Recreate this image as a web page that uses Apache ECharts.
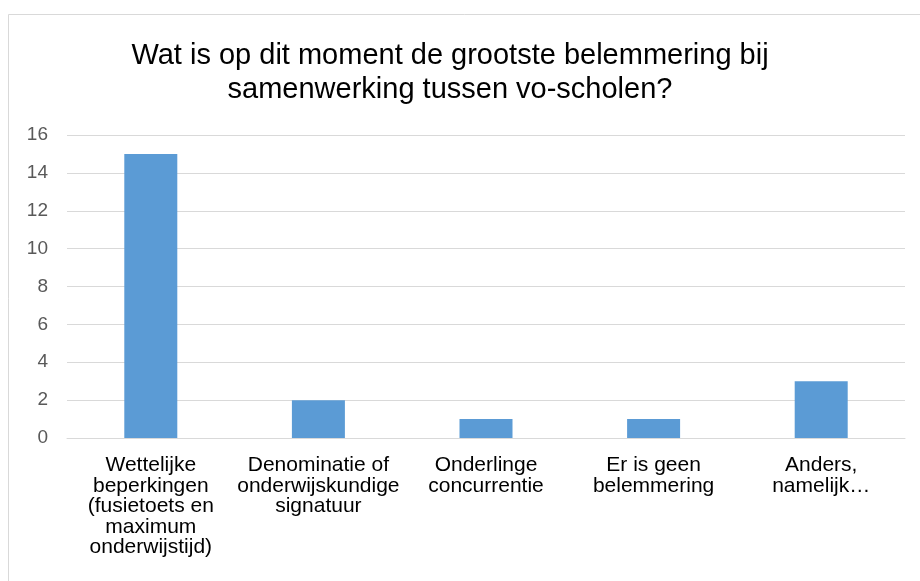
<!DOCTYPE html>
<html>
<head>
<meta charset="utf-8">
<script src="https://cdn.jsdelivr.net/npm/echarts@6/dist/echarts.min.js"></script>
<style>
	html, body { margin: 0; padding: 0; background: #fff; }
	#chart { width: 920px; height: 581px; }
</style>
</head>
<body>
<div id="chart"></div>
<script>
// categorieën en aantallen
var categories = [
	'Wettelijke\nbeperkingen\n(fusietoets en\nmaximum\nonderwijstijd)',
	'Denominatie of\nonderwijskundige\nsignatuur',
	'Onderlinge\nconcurrentie',
	'Er is geen\nbelemmering',
	'Anders,\nnamelijk…'
];
var counts = [15, 2, 1, 1, 3];
var titleText = 'Wat is op dit moment de grootste belemmering bij\nsamenwerking tussen vo-scholen?';

var myChart = echarts.init(document.getElementById('chart'));
var option = {
	backgroundColor: '#fff',
	animation: false,
	graphic: [{
		type: 'rect',
		shape: { x: 8.5, y: 14.5, width: 960, height: 620 },
		style: { fill: 'none', stroke: '#d9d9d9', lineWidth: 1 },
		silent: true
	}],
	title: {
		text: titleText,
		left: 445,
		textAlign: 'center',
		top: 34,
		textStyle: {
			fontFamily: 'Liberation Sans, Arial, sans-serif',
			fontSize: 29,
			fontWeight: 'normal',
			color: '#000',
			lineHeight: 34
		}
	},
	grid: {
		left: 67,
		right: 15,
		top: 135,
		bottom: 143,
		containLabel: false
	},
	xAxis: {
		type: 'category',
		data: categories,
		axisLine: { show: true, lineStyle: { color: '#d9d9d9', width: 1 } },
		axisTick: { show: false },
		axisLabel: {
			interval: 0,
			margin: 17,
			color: '#000',
			fontFamily: 'Liberation Sans, Arial, sans-serif',
			fontSize: 21,
			lineHeight: 20.5,
			align: 'center'
		}
	},
	yAxis: {
		type: 'value',
		min: 0,
		max: 16,
		interval: 2,
		axisLine: { show: false },
		axisTick: { show: false },
		splitLine: { lineStyle: { color: '#d9d9d9', width: 1 } },
		axisLabel: {
			margin: 19,
			color: '#595959',
			fontFamily: 'Liberation Sans, Arial, sans-serif',
			fontSize: 19
		}
	},
	series: [{
		type: 'bar',
		data: counts,
		barWidth: 53,
		itemStyle: { color: '#5b9bd5' }
	}]
};
myChart.setOption(option);
</script>
</body>
</html>
